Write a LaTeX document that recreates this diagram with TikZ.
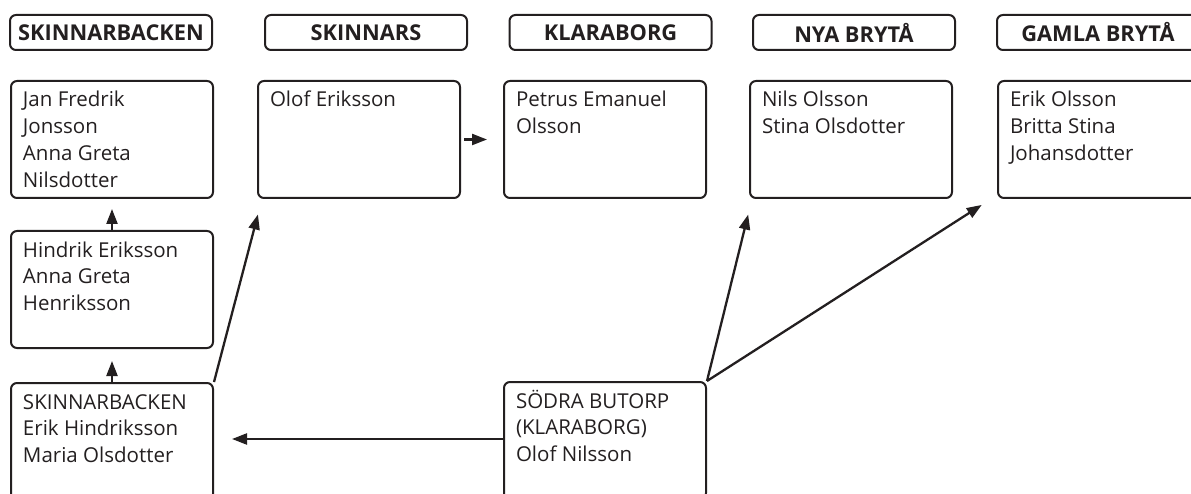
\documentclass[tikz,border=0pt]{standalone}
\usepackage{fontspec}
\setmainfont{Open Sans}
\usetikzlibrary{arrows.meta,calc}
\definecolor{ink}{RGB}{35,31,32}
\newcommand\cardtext[1]{\parbox[c][117pt][t]{178pt}{\raggedright\rule{0pt}{26pt}#1}}
\begin{document}
\begin{tikzpicture}[x=1pt,y=-1pt,
  hdr/.style={draw=ink, line width=2pt, rounded corners=6pt, minimum width=202pt,
    minimum height=35pt, inner sep=0pt, text=ink, font=\fontsize{21.8}{26}\selectfont\bfseries},
  card/.style={draw=ink, line width=2pt, rounded corners=6pt, inner xsep=12pt,
    inner ysep=0pt, anchor=north west, text=ink, font=\fontsize{20.5}{26.8}\selectfont},
  arr/.style={draw=ink, line width=2.3pt, -{Triangle[length=15pt,width=11pt]}}]
\useasboundingbox (0,0) rectangle (1191,494);
% headers
\node[hdr] (h1) at (111,32.5) {SKINNARBACKEN};
\node[hdr] (h2) at (366,32.5) {SKINNARS};
\node[hdr] (h3) at (610.5,32.5) {KLARABORG};
\node[hdr] (h4) at (854,32.5) {NYA BRYTÅ};
\node[hdr] (h5) at (1098,32.5) {GAMLA BRYTÅ};
% cards
\node[card] (jan) at (10,80) {\cardtext{Jan Fredrik\\Jonsson\\Anna Greta\\Nilsdotter}};
\node[card] (olof) at (257,80) {\cardtext{Olof Eriksson}};
\node[card] (petrus) at (503,80) {\cardtext{Petrus Emanuel\\Olsson}};
\node[card] (nils) at (749,80) {\cardtext{Nils Olsson\\Stina Olsdotter}};
\node[card] (gamla) at (997,80) {\cardtext{Erik Olsson\\Britta Stina\\Johansdotter}};
\node[card] (hind) at (10,230) {\cardtext{Hindrik Eriksson\\Anna Greta\\Henriksson}};
\node[card] (skb) at (10,382) {\cardtext{SKINNARBACKEN\\Erik Hindriksson\\Maria Olsdotter}};
\node[card] (sodra) at (503,381) {\cardtext{SÖDRA BUTORP\\(KLARABORG)\\Olof Nilsson}};
% arrows
\draw[arr, shorten >=10pt] (hind.north) -- (jan.south);
\draw[arr, shorten >=12pt] (skb.north) -- (hind.south);
\draw[arr, shorten <=3pt, shorten >=16pt] (olof.east) -- (petrus.west);
\draw[arr, shorten >=16pt] (skb.north east) -- ($(olof.south west)+(5,0)$);
\draw[arr, shorten >=18pt] ($(sodra.west)+(0,-1.5)$) -- ($(sodra.west -| skb.east)+(0,-1.5)$);
\draw[arr, shorten >=16pt] (sodra.north east) -- ($(nils.south west)+(3,0)$);
\draw[arr, shorten >=11pt] (sodra.north east) -- ($(gamla.south west)+(-6,0)$);
\end{tikzpicture}
\end{document}
